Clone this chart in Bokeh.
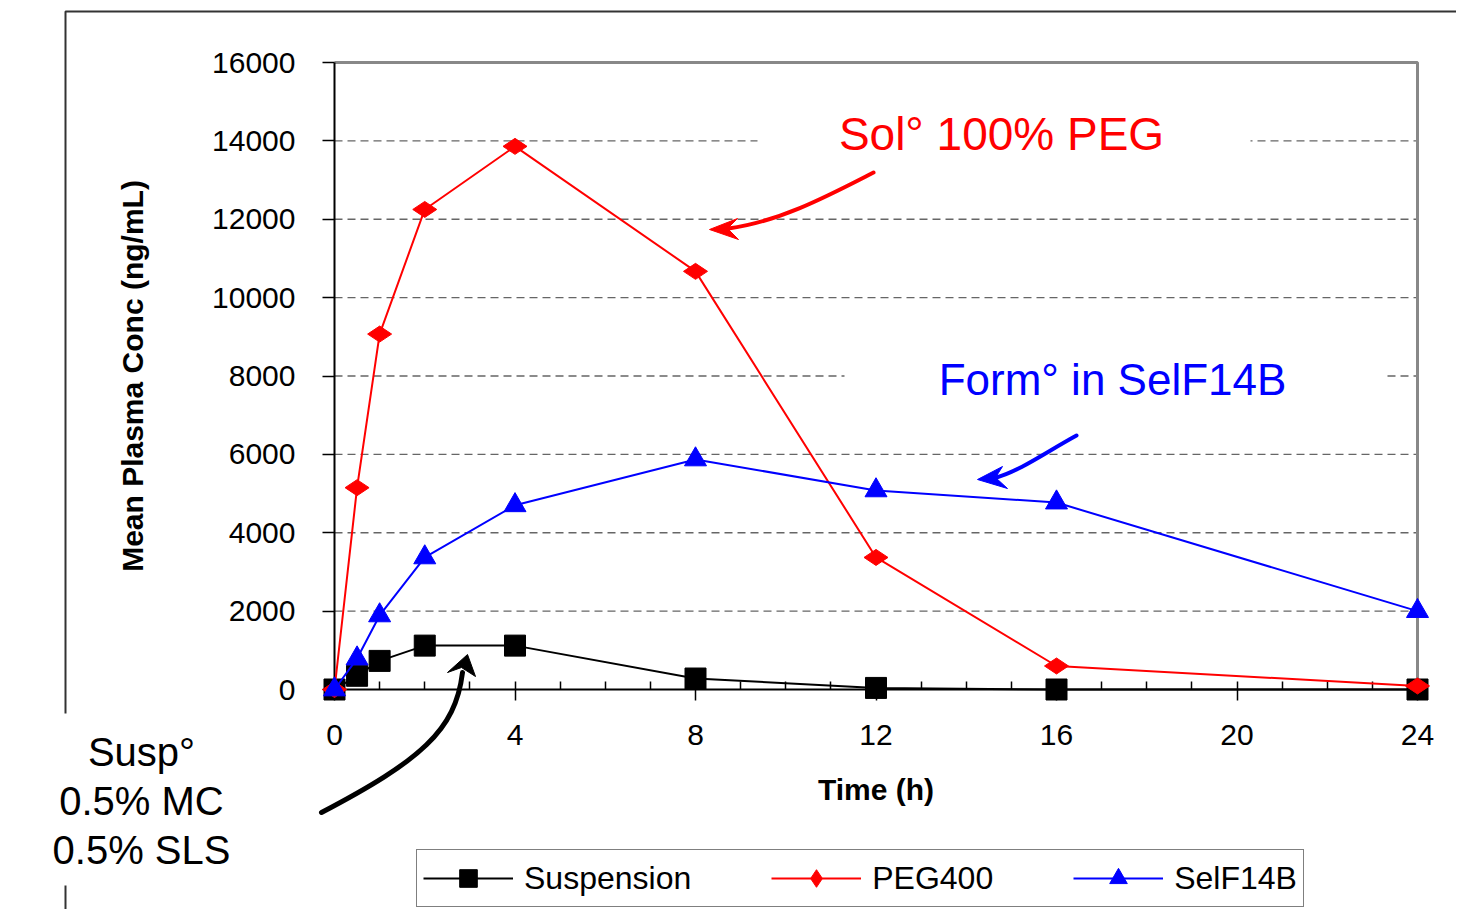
import numpy as np
from bokeh.plotting import figure
from bokeh.models import Range1d, FixedTicker, Legend, LegendItem
from bokeh.core.properties import value
from bokeh.embed import file_html
from bokeh.resources import INLINE

# ---------------- data ----------------
time_h = [0, 0.5, 1, 2, 4, 8, 12, 16, 24]
suspension = [0, 350, 730, 1120, 1120, 280, 40, 0, 0]
peg400 = [0, 5150, 9070, 12250, 13860, 10670, 3370, 600, 90]
self14b = [0, 790, 1890, 3370, 4700, 5870, 5080, 4770, 2000]
series_names = ["Suspension", "PEG400", "SelF14B"]
series_colors = ["#000000", "#FF0000", "#0000FF"]
series_markers = ["square", "diamond", "triangle"]
x_ticks = [0, 4, 8, 12, 16, 20, 24]
x_minor = list(range(0, 25))
y_ticks = [0, 2000, 4000, 6000, 8000, 10000, 12000, 14000, 16000]
x_label = "Time (h)"
y_label = "Mean Plasma Conc (ng/mL)"
note_peg = "Sol° 100% PEG"
note_self = "Form° in SelF14B"
note_susp = ["Susp°", "0.5% MC", "0.5% SLS"]

FONT = "Liberation Sans"

# ---------------- geometry (page pixels -> data) ----------------
W, H, OFF = 1456, 909, 0
X0, XPX = 334.0, 1083.0 / 24
Y0, YPX = 689.0, 627.0 / 16000
TXT_DY = 16  # text glyph baseline correction


def dx(px):
    return (px - X0) / XPX


def dy(py):
    return (Y0 - py) / YPX


p = figure(width=W, height=H, output_backend="svg", toolbar_location=None,
           x_range=Range1d(dx(OFF), dx(OFF + W)),
           y_range=Range1d(dy(OFF + H), dy(OFF)),
           min_border=0, title=None)
p.outline_line_color = None
p.background_fill_color = "white"
p.border_fill_color = "white"
p.xgrid.visible = False
p.ygrid.visible = False

# ---------------- axes ----------------
xa = p.xaxis[0]
xa.fixed_location = 0
xa.bounds = (x_ticks[0], x_ticks[-1])
xa.ticker = FixedTicker(ticks=x_ticks, minor_ticks=x_minor)
xa.major_tick_in = 0
xa.major_tick_out = 11
xa.minor_tick_in = 8
xa.minor_tick_out = 0
xa.axis_line_width = 2
xa.major_tick_line_width = 1.5
xa.minor_tick_line_width = 1.5
xa.major_label_text_font = FONT
xa.major_label_text_font_size = "30px"
xa.major_label_text_color = "black"
xa.major_label_standoff = 24
xa.axis_label = x_label
xa.axis_label_text_font = FONT
xa.axis_label_text_font_size = "30px"
xa.axis_label_text_font_style = "bold"
xa.axis_label_text_color = "black"
xa.axis_label_standoff = 25

ya = p.yaxis[0]
ya.fixed_location = 0
ya.bounds = (y_ticks[0], y_ticks[-1])
ya.ticker = FixedTicker(ticks=y_ticks, minor_ticks=[])
ya.major_tick_in = 0
ya.major_tick_out = 12
ya.minor_tick_in = 0
ya.minor_tick_out = 0
ya.axis_line_width = 2
ya.major_tick_line_width = 1.5
ya.major_label_text_font = FONT
ya.major_label_text_font_size = "30px"
ya.major_label_text_color = "black"
ya.major_label_standoff = 27
ya.axis_label = y_label
ya.axis_label_text_font = FONT
ya.axis_label_text_font_size = "30px"
ya.axis_label_text_font_style = "bold"
ya.axis_label_text_color = "black"
ya.axis_label_standoff = 60

# ---------------- slide frame ----------------
p.line(x=[dx(65), dx(65), dx(1470)], y=[dy(930), dy(11), dy(11)],
       line_color="#333333", line_width=2)

# ---------------- plot box & grid ----------------
p.segment(x0=x_ticks[0], x1=x_ticks[-1], y0=y_ticks[1:-1], y1=y_ticks[1:-1],
          line_color="#666666", line_width=1.3, line_dash="8 5")
p.line(x=[x_ticks[0], x_ticks[-1], x_ticks[-1]], y=[y_ticks[-1], y_ticks[-1], y_ticks[0]],
       line_color="#888888", line_width=3)

# white backgrounds behind annotations
p.quad(left=[dx(757), dx(844), dx(10)], right=[dx(1250), dx(1386), dx(282)],
       top=[dy(108), dy(356), dy(713)], bottom=[dy(156), dy(402), dy(885)],
       fill_color="white", line_color=None)

# ---------------- series ----------------
legend_items = []
for name, vals, col, mk in zip(series_names, [suspension, peg400, self14b],
                               series_colors, series_markers):
    lr = p.line(x=time_h, y=vals, line_color=col, line_width=2)
    if mk == "diamond":
        sr = p.scatter(x=time_h, y=vals, marker=mk, size=24, angle=np.pi / 2,
                       fill_color=col, line_color=col)
    elif mk == "square":
        sr = p.scatter(x=time_h, y=vals, marker=mk, size=21,
                       fill_color=col, line_color=col)
    else:
        sr = p.scatter(x=time_h, y=vals, marker=mk, size=22,
                       fill_color=col, line_color=col)
    lr.level = "overlay"
    sr.level = "overlay"
    legend_items.append(LegendItem(label=name, renderers=[lr, sr]))

# ---------------- annotations ----------------
p.text(x=[dx(1001)], y=[dy(149 - TXT_DY)], text=[note_peg], text_align="center",
       text_baseline="alphabetic", text_font=value(FONT), text_font_size="46px",
       text_color="#FF0000")
p.text(x=[dx(1112)], y=[dy(395 - TXT_DY)], text=[note_self], text_align="center",
       text_baseline="alphabetic", text_font=value(FONT), text_font_size="44px",
       text_color="#0000FF")
p.text(x=[dx(141)] * 3, y=[dy(765 - 14), dy(814 - 14), dy(863 - 14)], text=note_susp,
       text_align="center", text_baseline="alphabetic", text_font=value(FONT),
       text_font_size="40px", text_color="black")


def arrow(p0, c0, c1, p1, tip, b1, notch, b2, color, width):
    p.bezier(x0=[dx(p0[0])], y0=[dy(p0[1])], x1=[dx(p1[0])], y1=[dy(p1[1])],
             cx0=[dx(c0[0])], cy0=[dy(c0[1])], cx1=[dx(c1[0])], cy1=[dy(c1[1])],
             line_color=color, line_width=width, line_cap="round")
    pts = [tip, b1, notch, b2]
    p.patch(x=[dx(a) for a, b in pts], y=[dy(b) for a, b in pts],
            fill_color=color, line_color=color, line_width=1)


arrow((873, 172), (830, 194), (780, 221), (728, 228),
      (709, 229), (737, 218), (727, 228), (738, 239), "#FF0000", 4)
arrow((1076, 435), (1045, 452), (1020, 470), (996, 477),
      (977, 479), (1002, 466), (995, 477), (1007, 488), "#0000FF", 4)
arrow((321, 812), (420, 760), (455, 730), (462, 672),
      (467, 654), (447, 672), (461, 667), (475, 676), "#000000", 5)

# ---------------- legend ----------------
legend = Legend(items=legend_items, orientation="horizontal", location=(416, 2),
                glyph_width=90, glyph_height=44, label_standoff=11, spacing=80,
                padding=6, margin=0, border_line_color="black", border_line_width=1.5,
                background_fill_color="white", background_fill_alpha=1.0,
                label_text_font=FONT, label_text_font_size="32px",
                label_text_color="black")
p.add_layout(legend, "center")

open("out.html", "w").write(file_html(p, INLINE))
